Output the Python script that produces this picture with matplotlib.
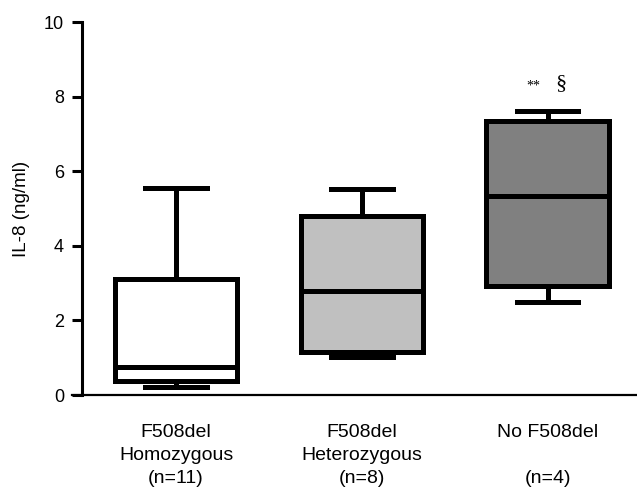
import matplotlib
matplotlib.use("Agg")
import matplotlib.pyplot as plt

plt.rcParams['font.family'] = ['Liberation Sans', 'DejaVu Sans']

categories = ["F508del\nHomozygous\n(n=11)", "F508del\nHeterozygous\n(n=8)", "No F508del\n\n(n=4)"]
whislo = [0.22, 1.02, 2.50]
q1 = [0.37, 1.15, 2.92]
med = [0.75, 2.79, 5.34]
q3 = [3.11, 4.80, 7.35]
whishi = [5.55, 5.52, 7.62]
colors = ["#ffffff", "#c0c0c0", "#808080"]
yticks = [0, 2, 4, 6, 8, 10]

fig = plt.figure(figsize=(6.37, 4.92), dpi=100)
ax = fig.add_axes([0.129, 0.197, 0.871, 0.758])

stats = []
for i in range(3):
    stats.append(dict(whislo=whislo[i], q1=q1[i], med=med[i], q3=q3[i], whishi=whishi[i], fliers=[], label=categories[i]))

lw = 3.6
bp = ax.bxp(stats, positions=[1, 2, 3], widths=0.66, patch_artist=True, showfliers=False,
            boxprops=dict(linewidth=lw, edgecolor='black'),
            medianprops=dict(linewidth=lw, color='black'),
            whiskerprops=dict(linewidth=lw, color='black'),
            capprops=dict(linewidth=lw, color='black'),
            capwidths=0.33)
for patch, c in zip(bp['boxes'], colors):
    patch.set_facecolor(c)

ax.set_xlim(0.495, 3.48)
ax.set_ylim(0, 10)
ax.set_yticks(yticks)
ax.set_yticklabels([str(t) for t in yticks], fontsize=13)
ax.tick_params(axis='y', length=7, width=2.2, pad=6)
ax.tick_params(axis='x', length=0, pad=21)
for lbl in ax.get_xticklabels():
    lbl.set_fontsize(14)
    lbl.set_linespacing(1.45)
ax.set_ylabel("IL-8 (ng/ml)", fontsize=13.5, labelpad=10)

for s in ['top', 'right']:
    ax.spines[s].set_visible(False)
ax.spines['left'].set_linewidth(2.2)
ax.spines['bottom'].set_linewidth(1.6)
ax.spines['bottom'].set_bounds(0.44, 3.48)
ax.spines['left'].set_bounds(0, 10)

ax.text(2.92, 8.28, "**", ha='center', va='center', fontsize=10, family=['Liberation Serif', 'DejaVu Serif'])
ax.text(3.07, 8.35, "§", ha='center', va='center', fontsize=16, family=['Liberation Serif', 'DejaVu Serif'])

fig.savefig("out.png", dpi=100)
